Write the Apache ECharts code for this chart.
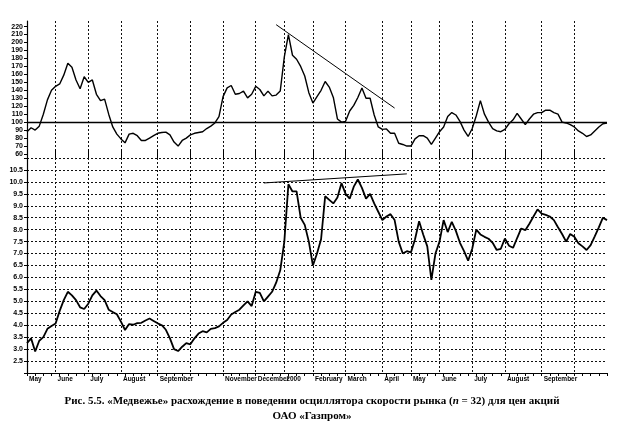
<!DOCTYPE html>
<html><head><meta charset="utf-8">
<script src="https://cdn.jsdelivr.net/npm/echarts@6/dist/echarts.min.js"></script>
<style>html,body{margin:0;padding:0;background:#fff}#c{width:624px;height:424px}</style>
</head><body><div id="c"></div>
<script>
// Months of the trading-day axis (May 1999 – October 2000) and number of samples in each
const monthNames  = ['May','June','July','August','September','October','November','December','January','February','March','April','May','June','July','August','September','October'];
const monthLabels = ['May','June','July','August','September','','November','December','2000','February','March','April','May','June','July','August','September',''];
const monthCounts = [7,8,8,9,8,8,8,7,7,8,9,7,7,8,8,9,8,9];

// Rate-of-change oscillator (n = 32)
const rocValues = [88,93,90,95,110,128,140,145,148,159,
 174,169,153,142,157,150,153,135,127,129,
 110,94,85,79,74,85,86,83,77,77,
 80,83,86,87,87.5,84,75,70,77,80,
 84,86,87,88,92,95,99,107,132,143,
 146,135,136,139,130.5,135,145,141,133,139,
 133,134,139,182,210,184,179,170,158,137,
 124,132,140,151,144,131,104,100,101,114,
 121,131,143,130,130,109,94,91,91.5,86,
 86,73.5,72,70,70,79,83,83,80,72,
 80,88,94,107,112,109,101,90,82,92,
 108,127,110,100,92,89,88,91,98,103,
 111,104,97,104,110,112,112,115,115,112,
 110,100,99,97,94,89,86,82,84,89,
 94,98,99];

// Gazprom share price
const priceValues = [3.25,3.45,2.9,3.35,3.5,3.85,3.97,4.07,4.6,5.05,
 5.4,5.25,5.05,4.75,4.68,4.9,5.25,5.45,5.22,5.05,
 4.65,4.55,4.46,4.15,3.8,4.05,4.02,4.09,4.1,4.2,
 4.28,4.18,4.08,4.0,3.81,3.45,3.0,2.92,3.1,3.25,
 3.2,3.45,3.65,3.75,3.7,3.85,3.88,3.95,4.1,4.22,
 4.45,4.55,4.65,4.83,5.0,4.8,5.4,5.35,5.0,5.2,
 5.4,5.78,6.3,7.5,9.9,9.6,9.6,8.5,8.2,7.5,
 6.5,7.0,7.6,9.4,9.25,9.1,9.35,9.95,9.5,9.3,
 9.8,10.1,9.75,9.3,9.5,9.1,8.75,8.4,8.55,8.65,
 8.4,7.5,7.0,7.1,7.05,7.6,8.35,7.8,7.3,5.9,
 7.0,7.5,8.4,7.9,8.33,7.95,7.45,7.1,6.7,7.2,
 8.0,7.8,7.7,7.62,7.45,7.15,7.2,7.63,7.33,7.24,
 7.65,8.05,7.98,8.25,8.55,8.85,8.67,8.62,8.55,8.4,
 8.1,7.82,7.5,7.82,7.7,7.43,7.3,7.15,7.35,7.72,
 8.1,8.5,8.4];

const rocTicks = [60,70,80,90,100,110,120,130,140,150,160,170,180,190,200,210,220];
// Trend lines: [sample index, value]
const rocTrend = [[61,222.4],[90,117.7]];
const priceTrend = [[58,9.955],[93,10.336]];

const categories = [];
const monthStart = {};
monthNames.forEach((m,k)=>{
  for (let j=0;j<monthCounts[k];j++){
    if (j===0) monthStart[categories.length] = monthLabels[k];
    categories.push(m+'-'+k+'-'+(j+1));
  }
});
const isMonth = (i)=> Object.prototype.hasOwnProperty.call(monthStart, i);

const dotted = {color:'#111', width:1, type:[2,2]};
const left = 27, right = 17;

const chart = echarts.init(document.getElementById('c'), null, {renderer:'canvas'});
chart.setOption({
  animation:false,
  backgroundColor:'#fff',
  title:[
    {left:'center', top:391, text:'{a|Рис. 5.5. «Медвежье» расхождение в поведении осциллятора скорости рынка (}{i|n}{a| = 32) для цен акций}',
     textStyle:{rich:{a:{fontFamily:'Liberation Serif',fontWeight:'bold',fontSize:11,color:'#000'},
                      i:{fontFamily:'Liberation Serif',fontWeight:'bold',fontStyle:'italic',fontSize:11,color:'#000'}}}},
    {left:'center', top:406, text:'ОАО «Газпром»',
     textStyle:{fontFamily:'Liberation Serif',fontWeight:'bold',fontSize:11,color:'#000'}}
  ],
  grid:[
    {left:left, right:right, top:21, height:137},
    {left:left, right:right, top:158, height:215}
  ],
  xAxis:[
    {gridIndex:0, type:'category', data:categories, boundaryGap:false,
     axisLine:{show:false}, axisTick:{show:false}, axisLabel:{show:false},
     splitLine:{show:true, interval:(i)=>isMonth(i), lineStyle:dotted}},
    {gridIndex:1, type:'category', data:categories, boundaryGap:false,
     axisLine:{show:true, lineStyle:{color:'#000', width:1.2}},
     axisTick:{show:true, interval:(i)=>i%2===0, length:3, lineStyle:{color:'#000'}},
     axisLabel:{show:true, interval:(i)=>isMonth(i), formatter:(v,i)=>monthStart[i]||'',
       align:'left', margin:3, fontSize:6.5, fontWeight:'bold', fontFamily:'Liberation Sans', color:'#000', padding:[0,0,0,2]},
     splitLine:{show:true, interval:(i)=>isMonth(i), lineStyle:dotted}},
    {gridIndex:1, type:'category', data:categories, boundaryGap:false,
     axisLine:{show:false}, axisLabel:{show:false}, splitLine:{show:false},
     axisTick:{show:true, interval:(i)=>isMonth(i), length:9, lineStyle:{color:'#000'}}}
  ],
  yAxis:[
    {gridIndex:0, type:'value', min:55, max:227,
     axisLine:{show:true, lineStyle:{color:'#000', width:1.2}},
     axisTick:{show:true, customValues:rocTicks, length:3, lineStyle:{color:'#000'}},
     axisLabel:{customValues:rocTicks, fontSize:7, fontWeight:'bold', fontFamily:'Liberation Sans', color:'#000', margin:4},
     splitLine:{show:false}},
    {gridIndex:1, type:'value', min:2, max:11, interval:0.5,
     axisLine:{show:true, lineStyle:{color:'#000', width:1.2}},
     axisTick:{show:true, length:3, lineStyle:{color:'#000'}},
     axisLabel:{formatter:(v)=> (v===2||v===11)?'':v.toFixed(1), fontSize:7, fontWeight:'bold', fontFamily:'Liberation Sans', color:'#000', margin:4},
     splitLine:{show:true, lineStyle:dotted}}
  ],
  series:[
    {type:'line', xAxisIndex:0, yAxisIndex:0, data:rocValues, symbol:'none',
     lineStyle:{color:'#000', width:1.4},
     markLine:{silent:true, symbol:['none','none'], label:{show:false},
       lineStyle:{color:'#000', width:1.4, type:'solid'}, data:[{yAxis:100}]}},
    {type:'line', xAxisIndex:0, yAxisIndex:0, data:rocTrend.map(p=>[categories[p[0]],p[1]]), symbol:'none',
     lineStyle:{color:'#000', width:1}},
    {type:'line', xAxisIndex:1, yAxisIndex:1, data:priceValues, symbol:'none',
     lineStyle:{color:'#000', width:1.8}},
    {type:'line', xAxisIndex:1, yAxisIndex:1, data:priceTrend.map(p=>[categories[p[0]],p[1]]), symbol:'none',
     lineStyle:{color:'#000', width:1}}
  ]
});
</script></body></html>
